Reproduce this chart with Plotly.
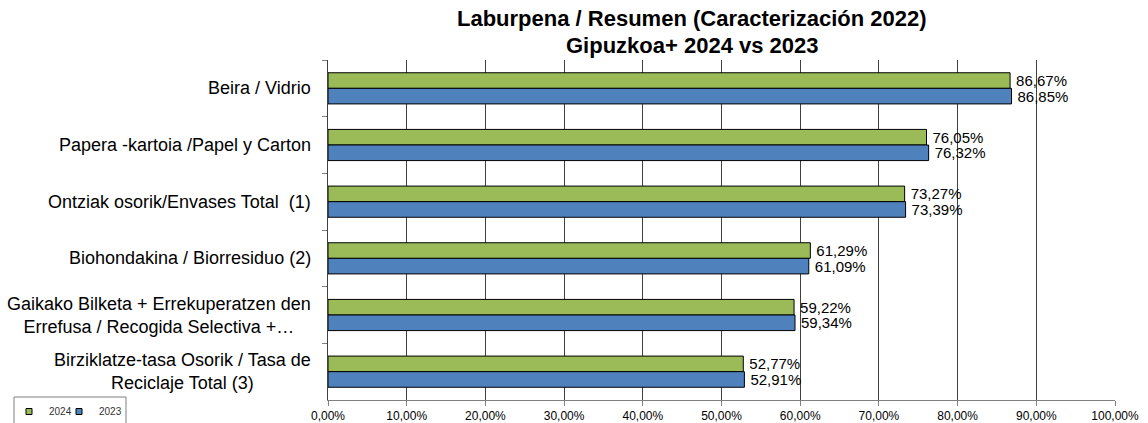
import plotly.graph_objects as go

# Categories (top to bottom) and recycling rates (%) per year
categories = [
    "Beira / Vidrio",
    "Papera -kartoia /Papel y Carton",
    "Ontziak osorik/Envases Total  (1)",
    "Biohondakina / Biorresiduo (2)",
    "Gaikako Bilketa + Errekuperatzen den<br>Errefusa / Recogida Selectiva +…",
    "Birziklatze-tasa Osorik / Tasa de<br>Reciclaje Total (3)",
]
values_2024 = [86.67, 76.05, 73.27, 61.29, 59.22, 52.77]
values_2023 = [86.85, 76.32, 73.39, 61.09, 59.34, 52.91]
series_names = ["2024", "2023"]
x_ticks = [0, 10, 20, 30, 40, 50, 60, 70, 80, 90, 100]
x_tick_labels = [f"{v:.2f}%".replace(".", ",") for v in x_ticks]
title_lines = ["Laburpena / Resumen (Caracterización 2022)",
               "Gipuzkoa+ 2024 vs 2023"]

GREEN = "#9BBB59"
BLUE = "#4F81BD"
FONT = "Liberation Sans, Arial, sans-serif"

W, H = 1148, 423
M_L, M_R, M_T, M_B = 328, 33, 60, 23
PLOT_W = W - M_L - M_R
PLOT_H = H - M_T - M_B


def px_to_paper_x(px):
    return (px - M_L) / PLOT_W


def px_to_paper_y(py):
    return (H - M_B - py) / PLOT_H


fig = go.Figure()

for name, vals, color in [(series_names[0], values_2024, GREEN),
                          (series_names[1], values_2023, BLUE)]:
    fig.add_trace(go.Bar(
        name=name,
        y=categories,
        x=vals,
        orientation="h",
        marker=dict(color=color, line=dict(color="#000000", width=1)),
        texttemplate="\u2009%{x:.2f}%",
        textposition="outside",
        constraintext="none",
        textfont=dict(family=FONT, size=15, color="#000000"),
        cliponaxis=False,
        showlegend=False,
        hoverinfo="skip",
    ))

# Small square legend keys, one per legend so they sit close together
for name, color, leg in [(series_names[0], GREEN, "legend"),
                         (series_names[1], BLUE, "legend2")]:
    fig.add_trace(go.Scatter(
        name=name,
        x=[None], y=[None],
        mode="markers",
        marker=dict(symbol="square", size=6, color=color,
                    line=dict(color="#000000", width=1)),
        showlegend=True,
        legend=leg,
    ))

# Category labels, centred line by line, left of the axis
for cat in categories:
    fig.add_annotation(
        x=0, xref="paper", y=cat, yref="y",
        xanchor="right", yanchor="middle", xshift=-15,
        text=cat, showarrow=False, align="center",
        font=dict(family=FONT, size=18, color="#000000"),
    )

# Two-line bold title above the plot area
for line, y_px in zip(title_lines, [19, 46]):
    fig.add_annotation(
        x=px_to_paper_x(692), xref="paper",
        y=px_to_paper_y(y_px), yref="paper",
        xanchor="center", yanchor="middle",
        text=f"<b>{line}</b>",
        showarrow=False,
        font=dict(family=FONT, size=22, color="#000000"),
    )

# Frame around the legend keys
fig.add_shape(
    type="rect", xref="paper", yref="paper",
    x0=px_to_paper_x(14), x1=px_to_paper_x(126),
    y0=px_to_paper_y(397), y1=px_to_paper_y(432),
    line=dict(color="#7f7f7f", width=1), fillcolor="rgba(0,0,0,0)",
    layer="above",
)

legend_common = dict(
    orientation="h",
    xref="container", yref="container",
    y=1 - 397 / H,
    xanchor="left", yanchor="top",
    borderwidth=0,
    bgcolor="rgba(0,0,0,0)",
    font=dict(family=FONT, size=10, color="#333333"),
    itemwidth=30,
)

fig.update_layout(
    width=W, height=H,
    margin=dict(l=M_L, r=M_R, t=M_T, b=M_B, autoexpand=False),
    paper_bgcolor="#ffffff",
    plot_bgcolor="#ffffff",
    barmode="group",
    bargap=0.45,
    bargroupgap=0,
    separators=",.",
    font=dict(family=FONT, color="#000000"),
    legend=dict(x=9 / W, **legend_common),
    legend2=dict(x=59 / W, **legend_common),
    xaxis=dict(
        range=[0, 100],
        tickvals=x_ticks,
        ticktext=x_tick_labels,
        showgrid=True, gridcolor="#404040", gridwidth=1,
        showline=True, linecolor="#808080", linewidth=1,
        ticks="outside", ticklen=5, tickcolor="#808080",
        tickfont=dict(family=FONT, size=12, color="#000000"),
        zeroline=False,
        fixedrange=True,
    ),
    yaxis=dict(
        autorange="reversed",
        showticklabels=False,
        showline=True, linecolor="#404040", linewidth=1,
        ticks="outside", ticklen=5, tickcolor="#808080",
        tickson="boundaries",
        showgrid=False,
        fixedrange=True,
    ),
)

fig.write_html("out.html")
